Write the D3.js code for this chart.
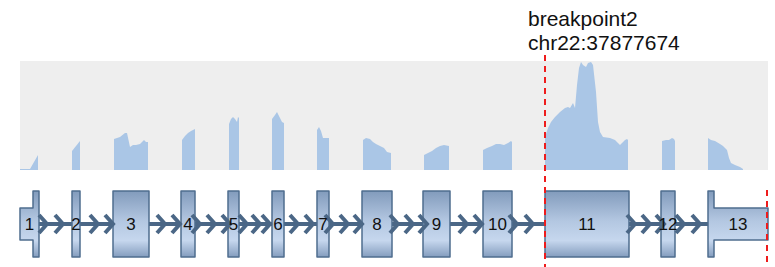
<!DOCTYPE html>
<html>
<head>
<meta charset="utf-8">
<script src="https://cdn.jsdelivr.net/npm/d3@7"></script>
<style>
  body { margin: 0; background: #fff; }
  svg { display: block; font-family: "Liberation Sans", Arial, sans-serif; }
</style>
</head>
<body>
<div id="chart"></div>
<script>
// transcript positions run 0..748 along the drawing
var exonIds = ["1", "2", "3", "4", "5", "6", "7", "8", "9", "10", "11", "12", "13"];
var exonStart = [0, 52, 93, 161, 208, 252, 297, 342, 403, 463, 525, 641, 688];
var exonEnd = [19, 60, 129, 175, 219, 264, 309, 372, 430, 492, 609, 655, 748];
// coding part of the UTR exons (the rest is drawn half height)
var cdsStart = [13, 52, 93, 161, 208, 252, 297, 342, 403, 463, 525, 641, 688];
var cdsEnd = [19, 60, 129, 175, 219, 264, 309, 372, 430, 492, 609, 655, 694];

// chevron tips along the introns
var chevrons = [27, 43, 78, 93, 145, 160, 180, 195, 210, 227, 240, 250,
                278, 293, 313, 328, 342, 378, 393, 407, 447, 462, 497, 513,
                615, 630, 644, 664, 680];

// read depth, [position, depth]
var coverage = [
  [[0, 1], [10, 1], [18, 15]],
  [[52, 19], [60, 29]],
  [[94, 31], [100, 33], [105, 37], [107, 37], [110, 23], [113, 25], [116, 25], [120, 26], [124, 30], [126, 28], [128, 28]],
  [[162, 30], [165, 34], [168, 37], [171, 39], [175, 41]],
  [[209, 46], [211, 51], [213, 53], [215, 51], [217, 48], [218, 53], [219, 52]],
  [[252, 51], [255, 55], [257, 58], [260, 52], [262, 48], [264, 47]],
  [[297, 40], [299, 43], [301, 39], [303, 32], [309, 32]],
  [[343, 30], [346, 32], [350, 31], [353, 28], [356, 26], [360, 24], [364, 22], [367, 18], [371, 17]],
  [[404, 15], [408, 17], [412, 19], [416, 22], [420, 24], [424, 25], [429, 24]],
  [[463, 20], [467, 22], [472, 24], [476, 26], [480, 26], [484, 25], [488, 27], [491, 29], [492, 28]],
  [[525, 33], [528, 42], [531, 48], [535, 53], [540, 58], [545, 62], [548, 63], [550, 62], [553, 67], [555, 62],
   [557, 85], [559, 102], [561, 108], [563, 105], [566, 103], [568, 107], [571, 108], [573, 105], [576, 78],
   [578, 48], [580, 38], [583, 33], [590, 32], [595, 30], [598, 27], [600, 25], [602, 27], [605, 30], [607, 31], [608, 30]],
  [[642, 29], [646, 30], [649, 30], [652, 32], [654, 31], [655, 29]],
  [[688, 32], [691, 30], [695, 29], [700, 26], [703, 24], [707, 20], [709, 12], [711, 7], [715, 5], [720, 3], [723, 1]]
];

var breakpointPos = 525;
var breakpointLabel = ["breakpoint2", "chr22:37877674"];
var endPos = 747;

var width = 775, height = 267;
var svg = d3.select("#chart").append("svg")
    .attr("width", width)
    .attr("height", height);

var x = d3.scaleLinear().domain([0, 748]).range([20, 768]);
var y = d3.scaleLinear().domain([0, 109]).range([170, 61]);

// coverage panel
svg.append("rect")
    .attr("x", x(0)).attr("y", y(109))
    .attr("width", x(748) - x(0)).attr("height", y(0) - y(109))
    .attr("fill", "#eeeeee");

var area = d3.area()
    .x(function (d) { return x(d[0]); })
    .y0(y(0))
    .y1(function (d) { return y(d[1]); });

svg.selectAll(".cov")
    .data(coverage)
    .enter().append("path")
    .attr("class", "cov")
    .attr("d", area)
    .attr("fill", "#aac6e6");

// gene model
var midY = 224, fullH = 66, utrH = 32;

var grad = svg.append("defs").append("linearGradient")
    .attr("id", "exonFill")
    .attr("gradientUnits", "userSpaceOnUse")
    .attr("x1", 0).attr("y1", midY - fullH / 2).attr("x2", 0).attr("y2", midY + fullH / 2);
grad.append("stop").attr("offset", "0%").attr("stop-color", "#829bbc");
grad.append("stop").attr("offset", "45%").attr("stop-color", "#b3c7e1");
grad.append("stop").attr("offset", "75%").attr("stop-color", "#c6d7ee");
grad.append("stop").attr("offset", "100%").attr("stop-color", "#849dbe");

svg.append("line")
    .attr("x1", x(exonEnd[0])).attr("x2", x(cdsEnd[12]))
    .attr("y1", midY).attr("y2", midY)
    .attr("stroke", "#4b6786")
    .attr("stroke-width", 4);

function exonPath(i) {
    var a = x(exonStart[i]), b = x(cdsStart[i]), c = x(cdsEnd[i]), e = x(exonEnd[i]);
    var ft = midY - fullH / 2, fb = midY + fullH / 2;
    var ut = midY - utrH / 2, ub = midY + utrH / 2;
    var p = d3.path();
    if (a < b) { p.moveTo(a, ut); p.lineTo(b, ut); } else { p.moveTo(b, ut); }
    p.lineTo(b, ft); p.lineTo(c, ft);
    if (e > c) { p.lineTo(c, ut); p.lineTo(e, ut); p.lineTo(e, ub); p.lineTo(c, ub); }
    p.lineTo(c, fb); p.lineTo(b, fb);
    if (a < b) { p.lineTo(b, ub); p.lineTo(a, ub); }
    p.closePath();
    return p.toString();
}

svg.selectAll(".exon")
    .data(exonIds)
    .enter().append("path")
    .attr("class", "exon")
    .attr("d", function (d, i) { return exonPath(i); })
    .attr("fill", "url(#exonFill)")
    .attr("stroke", "#4f6d8f")
    .attr("stroke-width", 1.5)
    .attr("stroke-linejoin", "round");

svg.selectAll(".chev")
    .data(chevrons)
    .enter().append("path")
    .attr("class", "chev")
    .attr("d", function (d) {
        var t = x(d);
        return "M" + (t - 8) + "," + (midY - 9) + "L" + t + "," + midY + "L" + (t - 8) + "," + (midY + 9);
    })
    .attr("fill", "none")
    .attr("stroke", "#4b6786")
    .attr("stroke-width", 4);

svg.selectAll(".exlab")
    .data(exonIds)
    .enter().append("text")
    .attr("class", "exlab")
    .attr("x", function (d, i) { return x((exonStart[i] + exonEnd[i]) / 2); })
    .attr("y", midY + 6)
    .attr("text-anchor", "middle")
    .attr("font-size", 17)
    .attr("fill", "#111")
    .text(function (d) { return d; });

// breakpoint markers
svg.append("line")
    .attr("x1", x(breakpointPos)).attr("x2", x(breakpointPos))
    .attr("y1", 55).attr("y2", 267)
    .attr("stroke", "#ee1c1c").attr("stroke-width", 2)
    .attr("stroke-dasharray", "6,5");

svg.append("line")
    .attr("x1", x(endPos)).attr("x2", x(endPos))
    .attr("y1", 190).attr("y2", 262)
    .attr("stroke", "#ee1c1c").attr("stroke-width", 2)
    .attr("stroke-dasharray", "6,5");

svg.selectAll(".bplab")
    .data(breakpointLabel)
    .enter().append("text")
    .attr("class", "bplab")
    .attr("x", 528)
    .attr("y", function (d, i) { return 26 + i * 24; })
    .attr("font-size", 21)
    .attr("fill", "#111")
    .text(function (d) { return d; });
</script>
</body>
</html>
